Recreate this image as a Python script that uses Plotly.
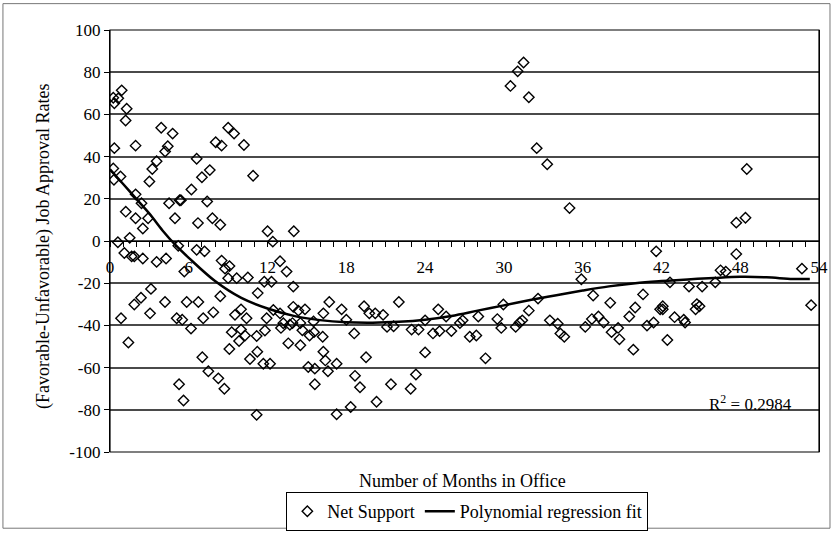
import plotly.graph_objects as go

# ---- Data ----
months = [
    0.25, 0.33, 0.63, 0.89, 1.27, 1.19, 0.33, 1.95, 3.9, 4.77, 4.4, 4.2, 3.55, 3.22, 3.0,
    0.25, 0.3, 0.8, 1.95, 2.4, 1.2, 1.95, 2.9, 2.5, 1.5, 0.6, 4.5, 5.3, 5.4, 4.95,
    6.2, 6.6, 7.0, 7.6, 7.4, 6.7, 7.8, 8.4, 8.05, 8.5, 9.0, 9.45, 10.2, 10.9, 12.0,
    12.4, 14.0, 5.2,
    1.09, 1.65, 1.85, 2.5, 3.55, 4.27, 5.66, 6.6, 7.2, 8.5, 8.76, 9.1, 9.0, 9.65, 10.5,
    11.75, 12.3, 12.95, 13.45, 13.96, 11.25, 8.4, 3.12, 2.36, 1.85, 0.84, 1.4, 3.05, 4.19,
    5.08, 5.5, 5.84, 6.73, 6.17, 7.1, 7.87, 9.52, 9.98, 10.4, 9.27, 9.98, 10.28, 9.83,
    9.09, 11.17, 11.8, 11.93, 12.44, 12.95, 13.02, 13.58, 13.96, 10.66, 11.22, 11.68,
    12.19, 7.03, 7.49, 8.25, 8.71, 5.26, 5.6, 11.17,
    14.35, 14.85, 16.7, 16.25, 17.64, 18.0, 19.35, 19.75, 20.2, 20.8, 21.1, 21.6, 22.0,
    22.97, 23.5, 24.0, 24.0, 23.3, 22.9, 24.6, 25.1, 25.0, 25.6, 26.0, 26.65, 26.86, 27.4,
    27.9, 28.05, 18.6, 19.5, 18.66, 19.04, 20.3, 18.33, 17.26, 21.4, 14.5, 13.7, 13.2,
    13.9, 14.5, 14.65, 15.2, 15.5, 15.54, 16.2, 16.25, 16.4, 15.1, 15.6, 16.6, 17.26, 15.6,
    41.6, 35.9, 28.6, 29.5, 29.8, 29.96, 30.9, 31.2, 31.4, 31.9, 32.6, 33.5, 34.1, 34.3,
    34.6, 36.2, 36.7, 36.8, 37.2, 37.6, 38.1, 38.2, 38.7, 38.8, 39.55, 40.0, 39.86, 40.6,
    40.9, 41.4, 41.9,
    48.5, 47.7, 48.4, 47.7, 46.5, 46.9, 52.7, 53.4, 46.1, 45.1, 44.1, 42.65, 42.1, 42.1,
    44.7, 44.9, 44.6, 43.0, 43.7, 43.8, 42.45,
    31.5, 31.05, 30.5, 31.9, 32.5, 33.3, 35.0,
]
net_support = [
    67.9, 65.3, 67.6, 71.4, 62.7, 57.1, 44.0, 45.2, 53.7, 50.9, 44.9, 42.4, 37.8, 34.1, 28.2,
    34.4, 29.0, 30.6, 22.1, 17.9, 13.9, 10.8, 10.8, 5.9, 1.5, -0.6, 17.9, 19.3, 19.3, 10.8,
    24.4, 39.0, 30.2, 33.6, 18.7, 8.5, 10.8, 7.7, 46.8, 45.2, 53.7, 50.9, 45.5, 30.9, 4.6,
    -0.3, 4.6, -2.3,
    -5.7, -7.3, -7.3, -8.3, -9.9, -8.3, -14.5, -4.2, -4.9, -9.3, -13.1, -11.9, -17.6, -17.6, -17.3,
    -19.3, -19.3, -9.6, -14.5, -21.6, -24.7, -26.2, -22.7, -26.9, -30.1, -36.6, -48.1, -34.3, -28.9,
    -36.6, -37.3, -28.9, -28.9, -41.5, -36.6, -33.8, -35.0, -32.4, -36.6, -43.2, -42.0, -44.8, -47.4,
    -51.2, -45.0, -42.4, -36.6, -32.7, -34.3, -41.2, -48.5, -31.2, -55.9, -52.5, -58.2,
    -58.2, -55.1, -61.7, -65.1, -70.0, -67.9, -75.6, -82.4,
    -33.0, -32.4, -28.9, -34.3, -32.4, -37.3, -30.9, -34.3, -34.3, -35.0, -40.7, -40.4, -28.9,
    -42.0, -42.0, -37.6, -52.8, -63.3, -70.0, -43.8, -42.7, -32.4, -35.8, -42.7, -38.9, -37.6, -45.4,
    -44.8, -35.8, -43.8, -55.1, -63.9, -69.3, -76.2, -78.7, -82.1, -67.9, -49.4, -39.7, -39.0,
    -38.9, -38.9, -42.3, -44.8, -38.1, -43.2, -45.4, -52.5, -56.6, -59.7, -60.5, -61.7, -58.2, -67.9,
    -4.9, -18.1, -55.6, -37.0, -41.2, -30.1, -40.7, -38.6, -37.6, -33.0, -27.3, -37.6, -39.2, -43.8,
    -45.4, -40.7, -37.0, -25.8, -35.8, -38.6, -29.3, -43.2, -41.2, -46.6, -35.8, -31.5, -51.5, -25.3,
    -40.1, -38.6, -32.4,
    34.1, 8.7, 11.0, -6.2, -13.9, -14.5, -13.1, -30.4, -19.6, -21.6, -21.6, -19.6, -30.9, -32.4,
    -29.9, -30.9, -32.4, -36.1, -37.3, -38.6, -46.9,
    84.6, 80.4, 73.5, 68.1, 44.0, 36.4, 15.6,
]

fit_months = [0, 1, 2, 3, 4, 5, 6, 8, 10, 12, 14, 16, 18, 20, 22, 24, 26, 28, 30, 32,
              34, 36, 38, 40, 42, 44, 46, 48, 50, 52, 53.3]
fit_values = [34, 27, 20, 13, 5, -2, -8, -19, -27, -32, -35.5, -37.5, -38.5, -38.7, -38.3,
              -37.3, -35.5, -33, -30.5, -28, -25.7, -23.5, -21.5, -20, -19, -18.2, -17.5,
              -17, -17.2, -18, -18]

x_ticks = [0, 6, 12, 18, 24, 30, 36, 42, 48, 54]
y_ticks = [-100, -80, -60, -40, -20, 0, 20, 40, 60, 80, 100]

FONT = "Liberation Serif"

fig = go.Figure()
fig.add_trace(go.Scatter(
    x=months, y=net_support, mode="markers", name="Net Support",
    marker=dict(symbol="diamond-open", size=8, color="black", line=dict(width=1.4, color="black")),
))
fig.add_trace(go.Scatter(
    x=fit_months, y=fit_values, mode="lines", name="Polynomial regression fit",
    line=dict(color="black", width=2.5, shape="spline"),
))

fig.update_layout(
    width=834, height=543,
    margin=dict(l=110, r=15, t=30, b=81),
    paper_bgcolor="white", plot_bgcolor="white",
    font=dict(family=FONT, size=17, color="black"),
    showlegend=True,
    legend=dict(
        orientation="h", x=0.504, y=-0.141, xanchor="center", yanchor="middle",
        bordercolor="black", borderwidth=1, font=dict(family=FONT, size=18),
        bgcolor="white", itemwidth=30,
    ),
    xaxis=dict(
        range=[0, 54], anchor="free", position=0.5, side="bottom", automargin=False,
        showline=True, linecolor="black", linewidth=1.2,
        tickmode="array", tickvals=x_ticks, ticktext=[str(t) for t in x_ticks],
        ticks="outside", ticklen=5, tickcolor="black", tickwidth=1,
        minor=dict(dtick=1, ticks="outside", ticklen=5, tickcolor="black", tickwidth=1, showgrid=False),
        showgrid=False, zeroline=False,
        ticklabelstandoff=5,
        tickfont=dict(family=FONT, size=17),
    ),
    yaxis=dict(
        range=[-100, 100], tickmode="array", tickvals=y_ticks,
        ticktext=[str(t) for t in y_ticks], automargin=False,
        showline=True, linecolor="black", linewidth=1.2, mirror=True,
        ticks="outside", ticklen=5, tickcolor="black",
        showgrid=True, gridcolor="#4a4a4a", gridwidth=1.5, zeroline=False,
        tickfont=dict(family=FONT, size=17),
    ),
    annotations=[
        dict(text="(Favorable-Unfavorable) Job Approval Rates", xref="paper", yref="paper",
             x=-0.093, y=0.486, textangle=-90, showarrow=False,
             xanchor="center", yanchor="middle", font=dict(family=FONT, size=18)),
        dict(text="Number of Months in Office", xref="paper", yref="paper",
             x=0.497, y=-0.069, showarrow=False, xanchor="center", yanchor="middle",
             font=dict(family=FONT, size=18)),
        dict(text="R<sup>2</sup> = 0.2984", xref="paper", yref="paper",
             x=0.903, y=0.116, showarrow=False, xanchor="center", yanchor="middle",
             font=dict(family=FONT, size=17)),
    ],
    shapes=[
        dict(type="rect", xref="paper", yref="paper", x0=0, x1=1, y0=0, y1=1,
             line=dict(color="black", width=1.2), layer="above"),
        dict(type="rect", xref="paper", yref="paper", x0=-0.151, x1=1.0155,
             y0=-0.1806, y1=1.0625, line=dict(color="#777", width=1)),
    ],
)

fig.write_html("out.html", config={"displayModeBar": False},
               post_script="document.body.style.margin='0px';")
